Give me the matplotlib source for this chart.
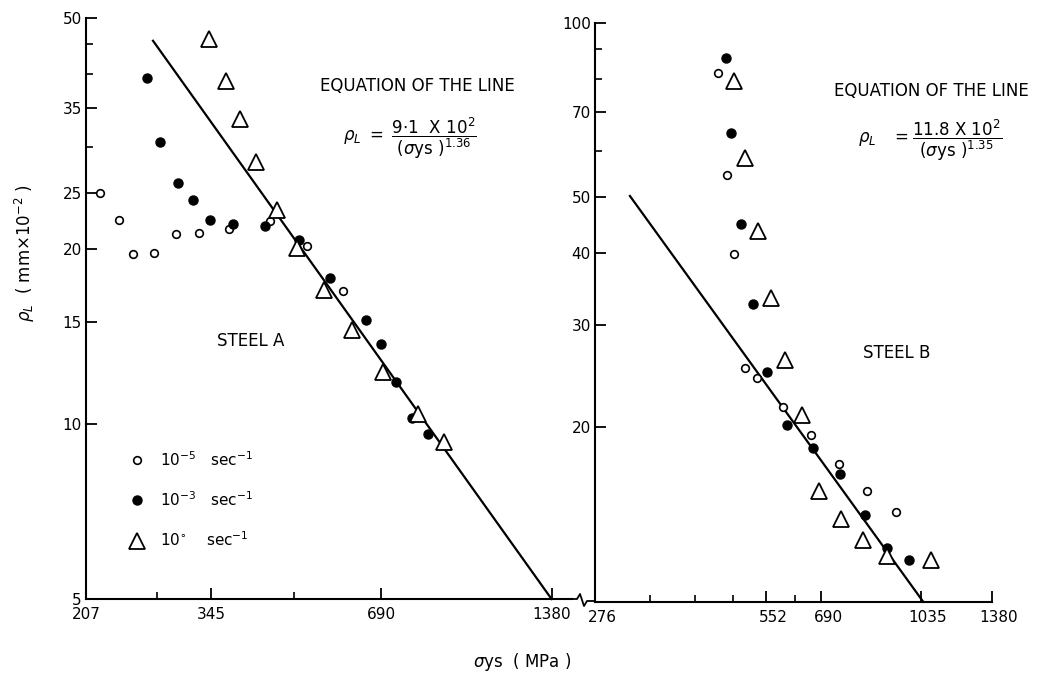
import matplotlib
matplotlib.use('Agg')
import matplotlib.pyplot as plt
import matplotlib.transforms as mtransforms
from matplotlib.lines import Line2D
from matplotlib.ticker import FixedLocator, NullFormatter

# Steel A: yield strength (MPa) vs rho_L (mm x 10^-2)
a_slow_x = [219, 237, 251, 273, 299, 328, 370, 439, 510, 591]
a_slow_y = [25.0, 22.4, 19.6, 19.7, 21.2, 21.3, 21.6, 22.3, 20.2, 16.9]
a_mid_x = [265, 280, 301, 320, 343, 377, 430, 494, 560, 648, 690, 733, 780, 834]
a_mid_y = [39.3, 30.5, 26.0, 24.3, 22.4, 22.1, 21.9, 20.7, 17.8, 15.1, 13.7, 11.8, 10.25, 9.6]
a_fast_x = [342, 366, 388, 414, 450, 490, 547, 611, 695, 801, 890]
a_fast_y = [45.9, 38.9, 33.5, 28.2, 23.3, 20.1, 17.0, 14.5, 12.3, 10.4, 9.3]
a_line_x = [272, 1380]
a_line_y = [45.6, 5.0]

# Steel B
b_slow_x = [455, 472, 484, 508, 533, 592, 662, 742, 832, 935]
b_slow_y = [82.0, 54.6, 39.9, 25.3, 24.3, 21.7, 19.4, 17.3, 15.5, 14.3]
b_mid_x = [469, 479, 499, 524, 554, 600, 669, 745, 825, 900, 986]
b_mid_y = [86.8, 64.4, 44.9, 32.7, 24.9, 20.2, 18.4, 16.6, 14.1, 12.4, 11.8]
b_fast_x = [485, 507, 535, 563, 596, 638, 685, 748, 819, 900, 1076]
b_fast_y = [79.3, 58.5, 43.7, 33.4, 26.2, 21.0, 15.5, 13.9, 12.8, 12.0, 11.8]
b_line_x = [318, 1044]
b_line_y = [50.2, 10.0]

# ticks
a_xticks = [207, 345, 690, 1380]
a_xminor = [276, 483]
a_yticks = [5, 10, 15, 20, 25, 35, 50]
a_yminor = [30, 40, 45]
b_xticks = [276, 552, 690, 1035, 1380]
b_xminor = [345, 414, 483, 621]
b_yticks = [20, 30, 40, 50, 70, 100]
b_yminor = [60, 80, 90]

rate_labels = [r'10$^{-5}$   sec$^{-1}$', r'10$^{-3}$   sec$^{-1}$', r'10$^{\circ}$    sec$^{-1}$']

W, H = 1055, 677
fig = plt.figure(figsize=(W / 100, H / 100), dpi=100)


def fxy(px, py):
    return px / W, 1 - py / H


ax_a = fig.add_axes([86 / W, 1 - 599 / H, (572 - 86) / W, (599 - 17.5) / H])
ax_b = fig.add_axes([595 / W, 1 - 601.7 / H, 397 / W, 579 / H])


def style_axis(ax, xlim, ylim, xt, xm, yt, ym):
    ax.set_xscale('log')
    ax.set_yscale('log')
    ax.set_xlim(*xlim)
    ax.set_ylim(*ylim)
    ax.xaxis.set_major_locator(FixedLocator(xt))
    ax.xaxis.set_minor_locator(FixedLocator(xm))
    ax.yaxis.set_major_locator(FixedLocator(yt))
    ax.yaxis.set_minor_locator(FixedLocator(ym))
    ax.set_xticklabels([str(v) for v in xt])
    ax.set_yticklabels([str(v) for v in yt])
    ax.xaxis.set_minor_formatter(NullFormatter())
    ax.yaxis.set_minor_formatter(NullFormatter())
    for s in ['top', 'right']:
        ax.spines[s].set_visible(False)
    for s in ['left', 'bottom']:
        ax.spines[s].set_linewidth(1.5)
    ax.tick_params(which='major', direction='in', length=8, width=1.3, labelsize=11, pad=3)
    ax.tick_params(which='minor', direction='in', length=5, width=1.2)
    ax.tick_params(axis='x', which='major', pad=6)


def draw_panel(ax, sx, sy, mx, my, fx, fy, lx, ly):
    ax.plot(lx, ly, color='black', lw=1.6)
    ax.plot(sx, sy, 'o', ls='none', ms=5.5, mfc='white', mec='black', mew=1.2, label=rate_labels[0])
    ax.plot(mx, my, 'o', ls='none', ms=6.5, mfc='black', mec='black', label=rate_labels[1])
    ax.plot(fx, fy, '^', ls='none', ms=11, mfc='white', mec='black', mew=1.3, label=rate_labels[2])


draw_panel(ax_a, a_slow_x, a_slow_y, a_mid_x, a_mid_y, a_fast_x, a_fast_y, a_line_x, a_line_y)
draw_panel(ax_b, b_slow_x, b_slow_y, b_mid_x, b_mid_y, b_fast_x, b_fast_y, b_line_x, b_line_y)

style_axis(ax_a, (207, 1500), (5, 50), a_xticks, a_xminor, a_yticks, a_yminor)
style_axis(ax_b, (276, 1380), (10, 100), b_xticks, b_xminor, b_yticks, b_yminor)
for ax in (ax_a, ax_b):
    for line in ax.get_lines():
        line.set_clip_on(False)

# right panel labels sit a little right of their ticks in the original
shift = mtransforms.ScaledTranslation(7 / 100, 0, fig.dpi_scale_trans)
for lab in ax_b.get_xticklabels():
    lab.set_transform(lab.get_transform() + shift)

ax_a.legend(loc='upper left', bbox_to_anchor=fxy(128, 450), bbox_transform=fig.transFigure,
            frameon=False, fontsize=11, borderpad=0, handlelength=1.2, handletextpad=0.9,
            labelspacing=1.4, borderaxespad=0)

# annotations
fig.text(*fxy(417, 86), 'EQUATION OF THE LINE', fontsize=12, ha='center', va='center')
fig.text(*fxy(410, 138),
         r'$\rho_L\ =\ \dfrac{9{\cdot}1\ \ \mathrm{X}\ 10^2}{(\sigma\mathrm{ys}\ )^{1.36}}$',
         fontsize=12, ha='center', va='center')
fig.text(*fxy(251, 341), 'STEEL A', fontsize=12, ha='center', va='center')

fig.text(*fxy(931, 91), 'EQUATION OF THE LINE', fontsize=12, ha='center', va='center')
fig.text(*fxy(930, 140),
         r'$\rho_L\quad =\dfrac{11.8\ \mathrm{X}\ 10^2}{(\sigma\mathrm{ys}\ )^{1.35}}$',
         fontsize=12, ha='center', va='center')
fig.text(*fxy(897, 353), 'STEEL B', fontsize=12, ha='center', va='center')

fig.text(*fxy(25, 253), r'$\rho_L$  ( mm$\times$10$^{-2}$ )', fontsize=12, rotation=90,
         ha='center', va='center')
fig.text(*fxy(522, 662), r'$\sigma$ys  ( MPa )', fontsize=12, ha='center', va='center')

# axis break mark between the panels
zx = [572, 577, 580, 584, 587, 595]
zy = [599, 599, 594, 606, 601, 601]
fig.add_artist(Line2D([x / W for x in zx], [1 - y / H for y in zy], color='black', lw=1.3))

fig.savefig('out.png', dpi=100)
